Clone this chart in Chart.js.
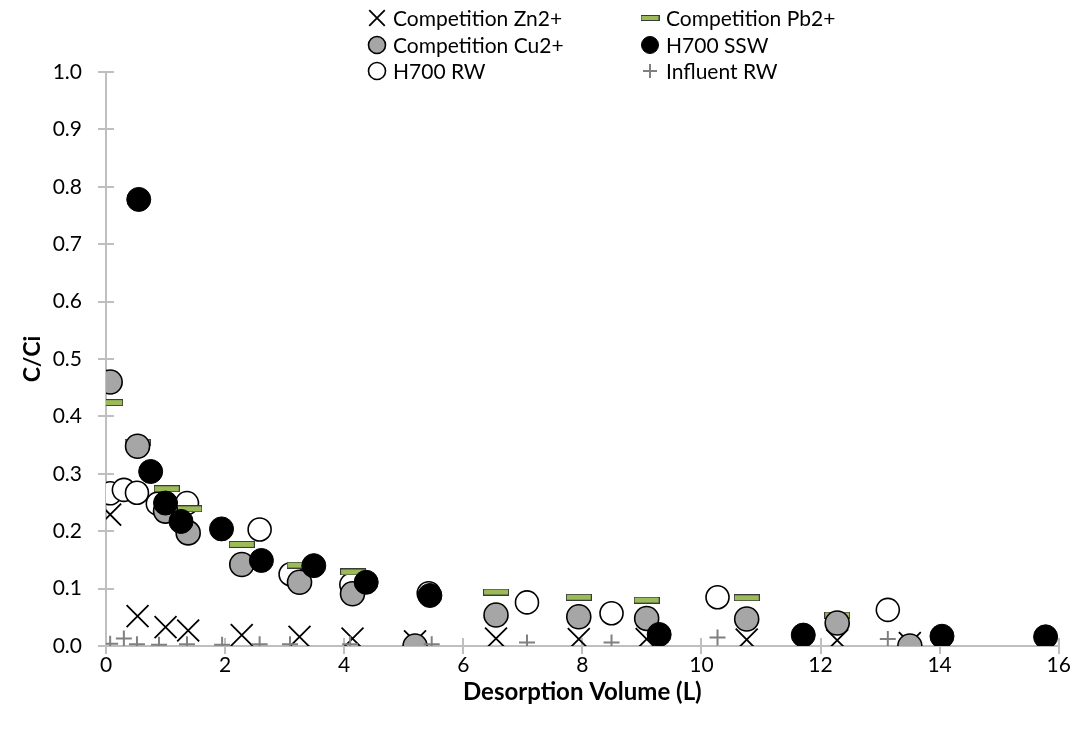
<!DOCTYPE html>
<html>
<head>
<meta charset="utf-8">
<script src="https://cdn.jsdelivr.net/npm/chart.js@4.4.1/dist/chart.umd.min.js"></script>
<style>
  html, body { margin: 0; padding: 0; background: #ffffff; }
  #wrap { width: 1076px; height: 737px; position: relative; }
</style>
</head>
<body>
<div id="wrap"><canvas id="c" width="1076" height="737"></canvas></div>
<script>
// ---------- data ----------
const seriesNames = ['Competition Zn2+', 'Competition Pb2+', 'Competition Cu2+', 'H700 SSW', 'H700 RW', 'Influent RW'];

const compX  = [0.07, 0.53, 1.00, 1.38, 2.28, 3.25, 4.14, 5.19, 6.55, 7.94, 9.08, 10.76, 12.28, 13.50];
const znY    = [0.229, 0.052, 0.033, 0.027, 0.019, 0.016, 0.013, 0.008, 0.013, 0.012, 0.012, 0.011, 0.010, 0.005];
const cuY    = [0.460, 0.348, 0.235, 0.197, 0.142, 0.111, 0.091, 0.000, 0.054, 0.051, 0.048, 0.047, 0.040, 0.000];

const pbX    = [0.07, 0.53, 1.02, 1.40, 2.28, 3.25, 4.15, 6.55, 7.94, 9.08, 10.76, 12.28];
const pbY    = [0.424, 0.355, 0.274, 0.239, 0.177, 0.141, 0.129, 0.094, 0.085, 0.080, 0.084, 0.054];

const sswX   = [0.55, 0.75, 1.00, 1.26, 1.94, 2.61, 3.49, 4.37, 5.44, 9.29, 11.71, 14.04, 15.78];
const sswY   = [0.778, 0.304, 0.249, 0.217, 0.204, 0.149, 0.140, 0.111, 0.088, 0.020, 0.019, 0.017, 0.016];

const rwX    = [0.07, 0.30, 0.52, 0.87, 1.36, 2.58, 3.10, 4.12, 5.42, 7.07, 8.49, 10.27, 13.13];
const rwY    = [0.266, 0.272, 0.267, 0.248, 0.249, 0.203, 0.125, 0.107, 0.092, 0.076, 0.057, 0.085, 0.063];

const infX   = [0.07, 0.30, 0.52, 0.89, 1.36, 1.95, 2.58, 3.09, 4.10, 5.47, 7.07, 8.49, 10.27, 13.13];
const infY   = [0.004, 0.013, 0.003, 0.002, 0.003, 0.002, 0.003, 0.003, 0.003, 0.003, 0.006, 0.006, 0.015, 0.012];

const xTicks = [0, 2, 4, 6, 8, 10, 12, 14, 16];
const yTicks = [0.0, 0.1, 0.2, 0.3, 0.4, 0.5, 0.6, 0.7, 0.8, 0.9, 1.0];
const xTitle = 'Desorption Volume (L)';
const yTitle = 'C/Ci';

// ---------- helpers ----------
const FONT = 'Lato, "Open Sans", sans-serif';
const AXIS_COLOR = '#bfbfbf';

function pts(xs, ys) { return xs.map((x, i) => ({ x: x, y: ys[i] })); }

function dashImage(w, h) {
  const cv = document.createElement('canvas');
  cv.width = w; cv.height = h;
  const c = cv.getContext('2d');
  c.fillStyle = '#3a3a3a';
  c.fillRect(0, 0, w, h);
  c.fillStyle = '#9bbb59';
  c.fillRect(1, 1, w - 2, h - 2);
  return cv;
}
const dashPlot = dashImage(26, 7);
const dashLegend = dashImage(19, 6);

const styles = [
  { pointStyle: 'crossRot', radius: 15.5, bg: 'rgba(0,0,0,0)', border: '#000000', bw: 1.8, lr: 11 },
  { pointStyle: dashPlot, radius: 13, bg: '#9bbb59', border: '#3a3a3a', bw: 1, lr: 9, legendImg: dashLegend },
  { pointStyle: 'circle', radius: 12, bg: '#a6a6a6', border: '#000000', bw: 1.6, lr: 8.5 },
  { pointStyle: 'circle', radius: 12, bg: '#000000', border: '#000000', bw: 1, lr: 8.5 },
  { pointStyle: 'circle', radius: 11.5, bg: '#ffffff', border: '#000000', bw: 1.6, lr: 8.5 },
  { pointStyle: 'cross', radius: 8, bg: 'rgba(0,0,0,0)', border: '#808080', bw: 2, lr: 7 }
];
const seriesData = [pts(compX, znY), pts(pbX, pbY), pts(compX, cuY), pts(sswX, sswY), pts(rwX, rwY), pts(infX, infY)];

// drawing order (bottom -> top)
const drawOrder = [4, 0, 1, 2, 3, 5];

const datasets = drawOrder.map((si, k) => {
  const s = styles[si];
  return {
    label: seriesNames[si],
    data: seriesData[si],
    showLine: false,
    pointStyle: s.pointStyle,
    pointRadius: s.radius,
    pointHoverRadius: s.radius,
    pointBackgroundColor: s.bg,
    pointBorderColor: s.border,
    pointBorderWidth: s.bw,
    pointHoverBorderWidth: s.bw,
    order: drawOrder.length - k
  };
});

// cross-style tick marks
const crossTicks = {
  id: 'crossTicks',
  beforeDatasetsDraw(chart) {
    const ctx = chart.ctx;
    const xs = chart.scales.x, ys = chart.scales.y;
    const a = chart.chartArea;
    ctx.save();
    ctx.strokeStyle = AXIS_COLOR;
    ctx.lineWidth = 2;
    ctx.beginPath();
    xTicks.forEach(v => {
      const px = Math.round(xs.getPixelForValue(v));
      ctx.moveTo(px, a.bottom - 8);
      ctx.lineTo(px, a.bottom + 8);
    });
    yTicks.forEach(v => {
      const py = Math.round(ys.getPixelForValue(v));
      ctx.moveTo(a.left - 8, py);
      ctx.lineTo(a.left + 8, py);
    });
    ctx.stroke();
    ctx.restore();
  }
};

// two-column legend
const legendPos = [
  { x: 377, y: 18 }, { x: 650, y: 18 },
  { x: 377, y: 45 }, { x: 650, y: 45 },
  { x: 377, y: 71 }, { x: 650, y: 71 }
];
const customLegend = {
  id: 'customLegend',
  afterDraw(chart) {
    const ctx = chart.ctx;
    ctx.save();
    seriesNames.forEach((name, i) => {
      const s = styles[i];
      const p = legendPos[i];
      if (s.legendImg) {
        ctx.drawImage(s.legendImg, p.x - s.legendImg.width / 2, p.y - s.legendImg.height / 2);
      } else {
        ctx.fillStyle = s.bg;
        ctx.strokeStyle = s.border;
        ctx.lineWidth = s.bw;
        Chart.helpers.drawPoint(ctx, { pointStyle: s.pointStyle, radius: s.lr, rotation: 0, borderWidth: s.bw }, p.x, p.y);
      }
      ctx.fillStyle = '#000000';
      ctx.font = '21px ' + FONT;
      ctx.textAlign = 'left';
      ctx.textBaseline = 'middle';
      ctx.fillText(name, p.x + 16, p.y + 1);
    });
    ctx.restore();
  }
};

new Chart(document.getElementById('c'), {
  type: 'scatter',
  data: { datasets: datasets },
  options: {
    responsive: false,
    animation: false,
    devicePixelRatio: 1,
    layout: { padding: { top: 72, right: 16, bottom: 0, left: 0 } },
    plugins: {
      legend: { display: false },
      tooltip: { enabled: false }
    },
    scales: {
      x: {
        type: 'linear',
        min: 0, max: 16,
        afterFit(scale) { scale.height = 737 - 646; },
        afterBuildTicks(scale) { scale.ticks = xTicks.map(v => ({ value: v })); },
        grid: { display: false },
        border: { display: true, color: AXIS_COLOR, width: 2 },
        ticks: {
          padding: -1,
          color: '#000000',
          font: { family: FONT, size: 21 },
          callback: v => String(v)
        },
        title: {
          display: true,
          text: xTitle,
          color: '#000000',
          font: { family: FONT, size: 24, weight: 'bold' },
          padding: { top: 0, bottom: 30 }
        }
      },
      y: {
        type: 'linear',
        min: 0, max: 1,
        afterFit(scale) { scale.width = 106; },
        afterBuildTicks(scale) { scale.ticks = yTicks.map(v => ({ value: v })); },
        grid: { display: false },
        border: { display: true, color: AXIS_COLOR, width: 2 },
        ticks: {
          padding: 16,
          color: '#000000',
          font: { family: FONT, size: 21 },
          callback: v => Number(v).toFixed(1)
        },
        title: {
          display: true,
          text: yTitle,
          color: '#000000',
          font: { family: FONT, size: 23, weight: 'bold' },
          padding: { top: 19, bottom: 0 }
        }
      }
    }
  },
  plugins: [crossTicks, customLegend]
});
</script>
</body>
</html>
